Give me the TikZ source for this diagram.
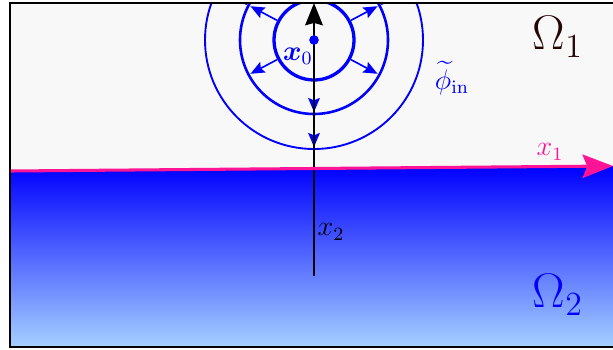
\documentclass[tikz,border=0pt]{standalone}
\usepackage{amsmath,bm}
\usetikzlibrary{arrows.meta,calc}
\definecolor{bgray}{RGB}{248,248,248}
\definecolor{lblue}{RGB}{165,208,255}
\definecolor{pinkc}{RGB}{255,20,150}
\definecolor{darkom}{RGB}{35,5,5}
\tikzset{
  wave/.style={blue,line width=0.7pt,-{Stealth[length=6pt,width=5pt,inset=1pt]}},
  ring/.style={blue,draw}
}
\begin{document}
\begin{tikzpicture}[x=0.015cm,y=-0.015cm]
\useasboundingbox (0,0) rectangle (613,349);
\coordinate (c) at (314,40);
\begin{scope}
\clip (10,3) rectangle (613,347);
\fill[bgray] (10,3) rectangle (613,347);
\shade[top color=blue, bottom color=lblue] (10,171) -- (613,166) -- (613,347) -- (10,347) -- cycle;
\draw[ring,line width=1.4pt] (c) circle[radius=40];
\draw[ring,line width=1.1pt] (c) circle[radius=74];
\draw[ring,line width=0.8pt] (c) circle[radius=109];
\foreach \a in {28,152,208,332,90}
  \draw[wave] ([shift={(\a:42)}]c) -- ([shift={(\a:72)}]c);
\foreach \a in {208,332,90}
  \draw[wave] ([shift={(\a:76)}]c) -- ([shift={(\a:107)}]c);
\coordinate (xb) at (314,276);
\coordinate (xt) at (314,3);
\draw[black,line width=0.9pt,-{Stealth[length=9.5pt,width=7.5pt,inset=1pt]}] (xb) -- (xt);
\coordinate (pl) at (10,171);
\coordinate (pr) at (613,166);
\draw[pinkc,line width=1.3pt,-{Stealth[length=13pt,width=10pt,inset=2pt]}] (pl) -- (pr);
\fill[blue] (c) circle[radius=4.8];
\end{scope}
\draw[black,line width=0.5pt] (613,3) -- (10,3) -- (10,347) -- (613,347);
\node[blue,font=\large] (x0) at (298,56) {$\bm{x}_0$};
\node[blue,font=\large] (phi) at (452,78) {$\widetilde{\phi}_{\mathrm{in}}$};
\node[pinkc,font=\large] (x1) at (550,152) {$x_1$};
\node[black,font=\large] (x2) at (331,232) {$x_2$};
\node[darkom,font=\huge] (om1) at (558,37) {$\Omega_1$};
\node[blue,font=\huge] (om2) at (558,295) {$\Omega_2$};
\end{tikzpicture}
\end{document}
